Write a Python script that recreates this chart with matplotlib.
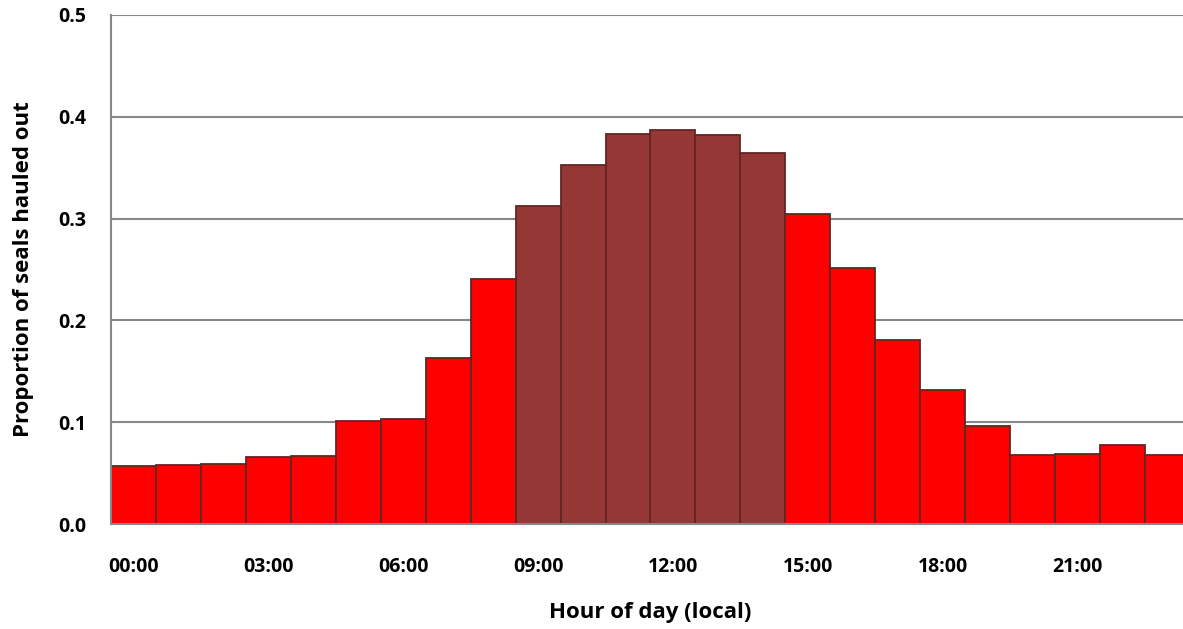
import matplotlib.pyplot as plt
import numpy as np

plt.rcParams['font.family'] = ['Open Sans', 'DejaVu Sans']

hours = list(range(24))
proportion = [0.057, 0.058, 0.059, 0.066, 0.067, 0.101, 0.103, 0.163,
              0.241, 0.312, 0.353, 0.383, 0.387, 0.382, 0.364, 0.305,
              0.251, 0.181, 0.132, 0.096, 0.068, 0.069, 0.078, 0.068]
daytime = [9, 10, 11, 12, 13, 14]
tick_hours = [0, 3, 6, 9, 12, 15, 18, 21]
tick_labels = ["00:00", "03:00", "06:00", "09:00", "12:00", "15:00", "18:00", "21:00"]

colors = ["#953735" if h in daytime else "#FF0000" for h in hours]

fig = plt.figure(figsize=(11.83, 6.29), dpi=100)
ax = fig.add_axes([111 / 1183, 105 / 629, 1079 / 1183, 509 / 629])

ax.bar(hours, proportion, width=1.0, color=colors, edgecolor="#632523",
       linewidth=1.3, zorder=3)

ax.set_xlim(-0.5, 23.5)
ax.set_ylim(0, 0.5)
ax.set_yticks(np.arange(0, 0.51, 0.1))
ax.set_yticklabels([f"{v:.1f}" for v in np.arange(0, 0.51, 0.1)])
ax.set_xticks(tick_hours)
ax.set_xticklabels(tick_labels)
ax.tick_params(axis="both", length=0, labelsize=14)
ax.tick_params(axis="x", pad=24)
ax.tick_params(axis="y", pad=18)
for lab in ax.get_xticklabels() + ax.get_yticklabels():
    lab.set_fontweight("bold")

ax.grid(axis="y", color="#888888", linewidth=1.5, zorder=0)
ax.set_axisbelow(True)
for side in ["top", "right"]:
    ax.spines[side].set_visible(False)
for side in ["left", "bottom"]:
    ax.spines[side].set_color("#888888")
    ax.spines[side].set_linewidth(1.5)
    ax.spines[side].set_zorder(4)

ax.set_xlabel("Hour of day (local)", fontsize=16, fontweight="bold", labelpad=18)
ax.set_ylabel("Proportion of seals hauled out", fontsize=16, fontweight="bold", labelpad=17)

fig.savefig("out.png", dpi=100)
